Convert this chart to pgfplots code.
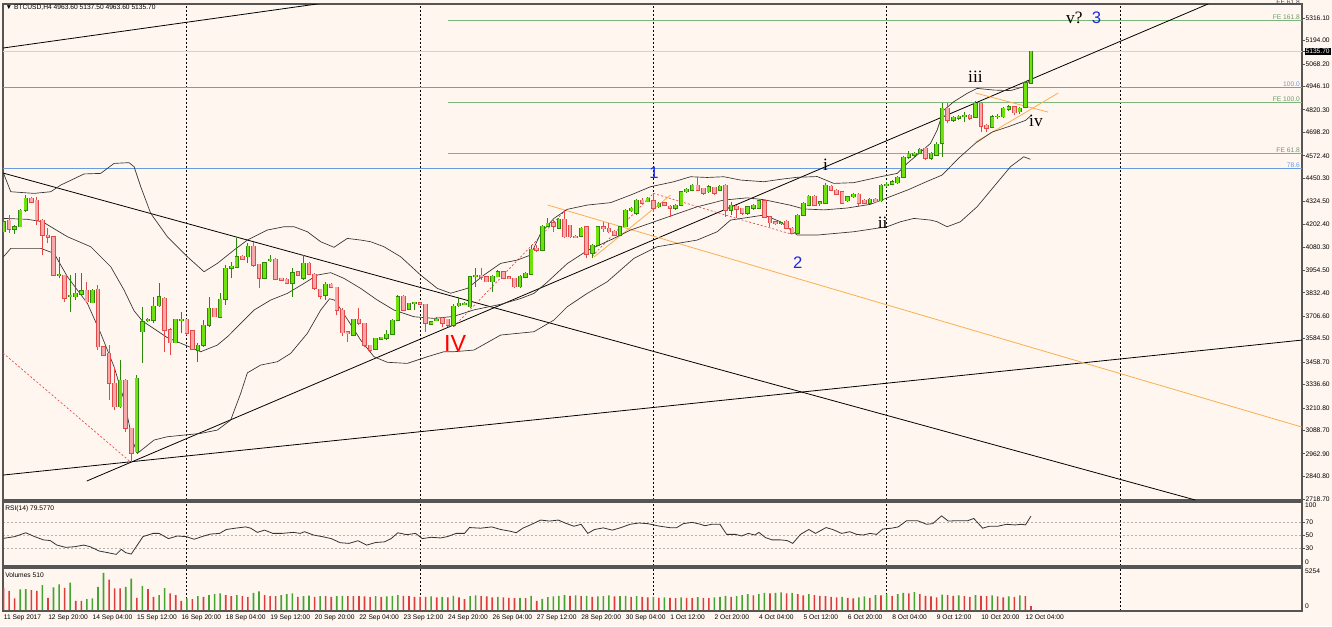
\documentclass[border=0pt]{standalone}
\usepackage{pgfplots}
\pgfplotsset{compat=1.18}
\usepackage{pgfplotstable}
\usepackage{fontspec}
\setmainfont{Liberation Sans}
\newfontfamily\serif{Liberation Serif}

\definecolor{bg}{RGB}{255,246,239}
\definecolor{upfill}{RGB}{110,226,10}
\definecolor{upline}{RGB}{45,135,10}
\definecolor{dnfill}{RGB}{247,168,168}
\definecolor{dnline}{RGB}{228,72,72}
\definecolor{fegreen}{RGB}{125,182,125}
\definecolor{fibblue}{RGB}{105,155,225}
\definecolor{frame}{RGB}{85,85,85}
\definecolor{orng}{RGB}{250,175,80}
\definecolor{wblue}{RGB}{30,40,225}
\definecolor{volg}{RGB}{70,165,50}
\definecolor{volr}{RGB}{225,60,60}

\newcommand\lab{\fontsize{5}{6}\selectfont}

\pgfplotsset{
  wick/.style={forget plot, draw=none, mark=none,
      error bars/.cd, y dir=plus, y explicit, error mark=none,
      error bar style={draw=#1, line width=0.75pt}},
  bodyline/.style={forget plot, draw=none, mark=none,
      error bars/.cd, y dir=both, y explicit, error mark=-,
      error mark options={rotate=90, draw=#1, line width=0.6pt, mark size=1.7pt},
      error bar style={draw=#1, line width=3.4pt}},
  bodyfill/.style={forget plot, draw=none, mark=none,
      error bars/.cd, y dir=both, y explicit, error mark=none,
      error bar style={draw=#1, line width=2.1pt}},
  mt/.style={scale only axis, width=974.25pt, xmin=-8.1, xmax=225.8,
      clip mode=individual,
      axis line style={draw=frame, line width=0.9pt},
      tick style={draw=frame, line width=0.5pt}, major tick length=2.2pt,
      tick align=outside,
      xtick={25,67,109,151,193}, xticklabels={}, xmajorgrids,
      major x grid style={black, line width=0.5pt, dash pattern=on 1.5pt off 1.5pt},
      x tick style={draw=none},
      ytick pos=right, yticklabel pos=right,
      yticklabel style={font=\lab, anchor=west, xshift=-0.5pt, inner sep=0.8pt},
      anchor=north west},
}

% rising candles: bar, open, high, low, close
\pgfplotstableread{
n o h l c
-8 4162 4230 4150 4216
-6 4177 4198 4150 4189
-5 4189 4285 4185 4279
-4 4279 4360 4270 4342
2 3928 4027 3910 3932
4 3811 3928 3730 3820
5 3811 3937 3793 3829
6 3826 3937 3820 3844
8 3779 3851 3775 3847
13 3217 3469 3208 3361
16 2974 3388 2965 3370
17 3622 3757 3451 3676
18 3682 3694 3676 3689
19 3685 3811 3667 3761
20 3763 3883 3757 3811
23 3563 3692 3560 3689
24 3685 3730 3613 3690
27 3523 3559 3460 3550
28 3550 3685 3541 3658
29 3658 3811 3649 3748
31 3700 3829 3694 3797
32 3797 3982 3766 3964
33 3964 4000 3910 3977
34 3970 4126 3964 4027
36 4027 4099 3991 4085
39 3910 4000 3905 3995
40 4006 4036 4000 4013
44 3883 3964 3811 3941
46 3910 4036 3901 3991
50 3820 3892 3793 3880
55 3604 3692 3600 3689
59 3527 3590 3523 3586
60 3583 3596 3580 3592
61 3586 3631 3577 3610
62 3608 3690 3605 3685
63 3685 3820 3680 3811
65 3743 3778 3740 3775
66 3779 3784 3739 3780
69 3664 3680 3660 3676
70 3682 3700 3680 3689
73 3658 3770 3650 3761
74 3763 3808 3757 3775
75 3772 3780 3765 3775
76 3757 3925 3750 3919
77 3919 3964 3865 3928
80 3892 3928 3838 3923
81 3919 3955 3915 3946
85 3865 3930 3860 3923
86 3916 3942 3912 3937
87 3934 4090 3930 4067
89 4063 4198 4058 4193
90 4193 4234 4189 4207
92 4180 4235 4175 4229
96 4139 4185 4135 4180
98 4045 4095 4018 4090
99 4090 4195 4085 4189
103 4144 4193 4140 4189
104 4189 4285 4185 4279
105 4276 4297 4270 4288
106 4261 4340 4255 4333
108 4324 4350 4320 4342
110 4297 4320 4290 4315
113 4288 4310 4280 4306
114 4306 4383 4300 4378
115 4378 4400 4372 4391
116 4387 4420 4380 4414
119 4378 4412 4372 4405
121 4387 4415 4380 4409
123 4279 4324 4252 4306
126 4261 4300 4255 4297
127 4288 4310 4280 4306
128 4288 4335 4283 4329
132 4207 4215 4200 4211
135 4153 4256 4150 4252
136 4252 4320 4248 4315
137 4306 4360 4300 4355
139 4315 4330 4300 4324
140 4315 4425 4310 4414
144 4330 4355 4325 4351
145 4351 4372 4345 4366
148 4315 4345 4310 4337
150 4330 4420 4325 4414
151 4414 4430 4405 4420
152 4420 4440 4412 4432
153 4427 4462 4420 4456
154 4456 4570 4450 4564
155 4564 4600 4555 4582
156 4575 4592 4568 4585
157 4585 4615 4580 4607
159 4558 4590 4550 4585
160 4576 4645 4570 4636
161 4639 4855 4567 4828
163 4765 4785 4755 4780
164 4774 4795 4765 4787
165 4785 4810 4756 4790
167 4780 4870 4775 4855
170 4726 4790 4720 4783
171 4783 4800 4770 4787
172 4783 4835 4775 4828
173 4823 4845 4815 4837
175 4810 4835 4800 4828
176 4833 4975 4828 4967
177 4963.6 5137.5 4963.6 5135.7
}\upc

% falling candles
\pgfplotstableread{
n o h l c
-7 4225 4252 4153 4175
-3 4342 4350 4315 4321
-2 4333 4351 4198 4225
-1 4225 4230 4036 4144
0 4144 4180 4099 4132
1 4135 4140 3925 3928
3 3928 3930 3784 3802
7 3847 3892 3775 3784
9 3851 3874 3523 3541
10 3541 3545 3490 3496
11 3505 3550 3253 3343
12 3343 3433 3199 3217
14 3361 3365 3082 3100
15 3100 3102 2920 2965
21 3802 3810 3514 3631
22 3634 3640 3496 3563
25 3689 3692 3605 3613
26 3628 3630 3523 3527
30 3748 3752 3700 3703
35 4031 4036 4010 4013
37 4085 4108 3973 3982
38 3988 3990 3856 3910
41 4013 4020 3900 3905
42 3910 3912 3898 3901
43 3905 3910 3880 3883
45 3946 3950 3925 3928
47 3991 4000 3928 3934
48 3934 3937 3850 3856
49 3851 3853 3797 3815
51 3880 3884 3860 3862
52 3862 3865 3712 3739
53 3739 3748 3599 3617
54 3622 3625 3568 3613
56 3689 3748 3660 3667
57 3667 3670 3541 3550
58 3550 3552 3514 3523
64 3815 3820 3735 3739
67 3779 3782 3765 3770
68 3770 3772 3622 3667
71 3694 3700 3649 3667
72 3689 3692 3645 3658
78 3928 3964 3901 3916
79 3919 3925 3888 3892
82 3946 3950 3905 3910
83 3919 3925 3905 3910
84 3910 3912 3860 3865
88 4072 4090 4054 4063
91 4211 4225 4162 4193
93 4229 4279 4126 4135
94 4198 4200 4130 4135
95 4139 4142 4128 4132
97 4189 4192 4018 4041
100 4189 4216 4162 4180
101 4180 4207 4153 4162
102 4166 4170 4140 4144
107 4333 4342 4310 4315
109 4329 4369 4270 4288
111 4319 4324 4300 4306
112 4301 4305 4243 4288
117 4414 4459 4380 4387
118 4396 4400 4362 4369
120 4401 4405 4360 4369
122 4414 4420 4243 4279
124 4301 4305 4234 4283
125 4288 4292 4255 4261
129 4329 4333 4235 4240
130 4243 4248 4189 4211
131 4216 4220 4200 4207
133 4220 4225 4175 4180
134 4180 4185 4148 4153
138 4355 4360 4300 4306
141 4409 4415 4385 4387
142 4387 4395 4360 4366
143 4378 4380 4310 4315
146 4366 4370 4300 4315
147 4333 4340 4310 4315
149 4337 4342 4318 4324
158 4612 4620 4550 4558
162 4828 4855 4747 4765
166 4792 4798 4765 4774
168 4855 4860 4702 4733
169 4738 4745 4702 4720
174 4837 4842 4795 4805
}\dnc

% volumes higher than the bar before
\pgfplotstableread{
n v
-5 2645
-4 2690
-1 3200
1 2900
2 3285
4 3540
7 1400
8 1490
9 2990
10 4780
14 2990
15 4050
17 3070
20 1920
21 2815
25 1490
27 1790
29 1920
30 2050
31 2130
34 1920
37 2220
38 2390
42 1920
43 2050
44 2130
46 1790
47 1870
49 1790
52 1790
53 1830
59 1790
61 1750
62 1830
63 1920
69 1750
71 1700
73 1830
76 1790
77 1880
81 1710
85 1580
87 1830
89 1450
90 1660
91 1750
92 1830
93 1920
95 1880
97 1830
99 1750
100 1790
101 1880
103 1790
104 1830
106 1790
109 1700
111 1620
114 1620
117 1660
120 1620
121 1700
122 1830
124 1790
125 1920
126 2050
128 2050
129 2220
131 2220
132 2260
134 2220
137 2050
143 1700
146 1620
147 1750
149 1920
151 2050
153 2050
154 2220
156 2300
161 1970
164 1880
167 1920
170 1880
173 1750
175 1880
}\vup

% volumes not higher than the bar before
\pgfplotstableread{
n v
-8 2860
-7 2475
-6 1490
-3 2560
-2 2475
0 1580
3 2860
5 1195
6 1195
11 3925
12 2770
13 2770
16 1580
18 2690
19 1700
22 2130
23 1920
24 1195
26 1400
28 1700
32 1920
33 1790
35 1790
36 1700
39 1920
40 1790
41 1790
45 1700
48 1700
50 1790
51 1700
54 1790
55 1790
56 1790
57 1750
58 1700
60 1700
64 1830
65 1790
66 1700
67 1700
68 1700
70 1620
72 1620
74 1620
75 1410
78 1790
79 1750
80 1620
82 1620
83 1580
84 1540
86 1540
88 1190
94 1830
96 1790
98 1700
102 1750
105 1700
107 1700
108 1620
110 1580
112 1580
113 1540
115 1580
116 1540
118 1580
119 1540
123 1700
127 1880
130 2130
133 2130
135 2050
136 1880
138 1920
139 1830
140 1790
141 1700
142 1620
144 1580
145 1500
148 1580
150 1880
152 1830
155 2130
157 2050
158 1830
159 1750
160 1620
162 1920
163 1830
165 1790
166 1700
168 1830
169 1790
171 1750
172 1620
174 1700
176 1790
177 510
}\vdn

\pgfplotstableread{
n p
-8 4477
-6.7 4378
-2.5 4369
0.5 4378
2.3 4414
6.5 4474
9.5 4477
11.9 4531
14.6 4535
15.5 4513
16.7 4405
18.5 4261
21.5 4135
25.1 4027
28.1 3946
30.5 3991
33.5 4063
35.9 4117
39.5 4171
42.5 4189
44.3 4189
46.7 4162
49.1 4108
51.5 4078
53.9 4126
56.3 4117
58.1 4108
60.5 4081
63.5 4027
67.1 3928
70.1 3856
72.5 3830
75.5 3856
78.5 3928
81.5 3991
84.5 4009
86.9 4036
88.7 4153
91.1 4234
93.5 4283
97.1 4306
101.3 4319
104.9 4360
108.5 4405
112.7 4432
115.7 4459
118.7 4455
121.7 4459
124.7 4441
128.9 4432
131.9 4445
134.9 4456
138.5 4460
141.5 4423
145.1 4427
149.9 4459
152.9 4477
154.7 4531
156.5 4576
158.9 4639
160.1 4711
161.3 4819
163.1 4864
165.5 4909
167.3 4936
170.3 4927
173.3 4924
175.7 4945
177 4985
}\bbup

\pgfplotstableread{
n p
-8 4234
-3.7 4229
-1 4216
3.5 4135
7.7 4081
11.3 3973
13.7 3847
15.5 3735
17 3680
21.5 3590
25.1 3545
27.5 3514
30.5 3550
32.5 3600
34.1 3649
37.1 3739
40.1 3793
43.1 3829
46.1 3883
48.5 3928
50.9 3941
53.3 3910
56.3 3856
59.3 3793
62.3 3739
65.9 3703
69.5 3694
73.1 3705
76.7 3740
81.5 3770
85 3800
87.5 3829
89.9 3890
93.5 3990
97.1 4060
101.9 4126
104.9 4171
110.9 4234
116.9 4297
121.7 4333
125.9 4345
128.9 4335
133.7 4305
136.1 4285
139.7 4280
143.9 4290
148.1 4310
151.1 4345
155 4390
158 4430
161 4468
164 4560
167 4640
170 4700
173 4730
176 4763
177 4789
}\bbmid

\pgfplotstableread{
n p
-8 4027
-6.7 4072
-1.3 4072
1.1 4045
3.5 3919
7.1 3775
9.5 3613
11.9 3433
13.7 3253
15.2 3037
16.1 2965
19.1 3037
21.5 3055
27.5 3073
30.5 3091
32.9 3145
34.7 3289
35.9 3400
38.3 3442
41.3 3460
43.7 3505
46.7 3613
49.1 3739
50.7 3800
51.6 3793
54 3685
56.3 3577
58.7 3487
61.1 3457
64.7 3451
68.3 3487
71.3 3514
73.1 3514
76.7 3523
81.5 3604
87.5 3622
91.1 3685
93.5 3757
97.1 3829
100.7 3892
105.5 4018
109.7 4081
116.9 4117
120.5 4162
122.9 4225
128.9 4252
131.9 4216
134.9 4144
138.5 4144
145.1 4162
151.1 4189
153.5 4216
155.9 4234
158.9 4225
160.1 4216
161.9 4189
164.3 4216
167.3 4297
170.3 4405
173.3 4513
175.7 4567
176.9 4553
}\bblow

\pgfplotstableread{
n r
-8 45.4
-6 48
-4 54
-2.4 48
-0.8 43
0.4 42
1.6 35
3.2 31.5
4.8 32.5
6.4 35
7.6 32.5
9.2 25.9
10.8 23.3
12.3 20.7
13.2 28.4
14 23.3
15 21.2
17.1 48
18.9 53
20 53
21.7 45
23.3 49
24.9 48
26.3 44
27.7 48
29.3 52
30.9 53
32.1 59
33.7 61
35.6 63
36.5 61
37.7 54.6
39 58
40.5 53
42.1 53
44.2 54.6
45.4 53
46.2 55.6
47.8 50.5
49.4 48
51 45
52.6 38.7
54.2 37.6
55.8 41.7
57.4 35
59 39
60.6 40
61.8 45
63 54
64.6 51
66.2 53
67.4 45
69 47
70.7 46
71.9 48
73.5 53
75 53
75.9 62
77.9 61
79.9 63
81.5 59
83.1 56.6
84.3 54
85.5 61
87.1 67
88.7 73.5
90.3 72
91.9 73.5
93.1 69
94.7 64
96 67
97.2 53
98.4 59
100 61.5
101.6 58
103.2 62
104.8 67
106.4 69
108 68
110 64.3
112 61.8
113.2 61.8
114.4 68
116 70
117.5 67
118.3 64.8
119.5 67
121 67
122.2 51.5
123.8 51.5
124.9 49
126.1 53
127.3 50.5
128 54.6
129.2 46.5
130.4 43
131.9 43
133.1 42
134.1 37.6
135.5 51.5
137 59
138.2 53
140.1 62
141.3 59
142.9 53
144.4 55.6
145.6 51.5
146.8 50.5
148 53
149.2 51.5
150.3 59.7
151.9 61
153.1 63
154.6 72.5
156.6 72.5
158.2 67
159.3 68
160.9 80
162.1 72
163.6 72.5
165.6 72.5
166.7 76
168.3 61
169.5 64
171 64
172.6 67
174.1 66
175.3 67
176 66
177 79.6
}\rsi

\begin{document}
\begin{tikzpicture}
\fill[bg] (0pt,0pt) rectangle (999pt,-469.5pt);
\useasboundingbox (0pt,0pt) rectangle (999pt,-469.5pt);

% ---------------- price panel
\begin{axis}[mt, at={(2.25pt,-3pt)}, height=372pt,
  ymin=2713.3, ymax=5391.7,
  ytick={2718.7,2840.8,2962.9,3088.7,3210.8,3336.6,3458.7,3584.5,3706.6,3832.4,3954.5,4080.3,4202.4,4324.5,4450.3,4572.4,4698.2,4820.3,4946.1,5068.2,5194.0,5316.1},
  yticklabels={2718.70,2840.80,2962.90,3088.70,3210.80,3336.60,3458.70,3584.50,3706.60,3832.40,3954.50,4080.30,4202.40,4324.50,4450.30,4572.40,4698.20,4820.30,4946.10,5068.20,5194.00,5316.10},
  extra y ticks={5135.7}, extra y tick labels={5135.70},
  extra y tick style={tick label style={fill=black, text=white}},
]
% horizontal levels
\addplot[gray!35, line width=1pt] coordinates {(-9,5135.7) (226,5135.7)};
\addplot[fibblue, line width=0.7pt] coordinates {(-9,4942) (226,4942)};
\addplot[fibblue, line width=0.7pt] coordinates {(-9,4505) (226,4505)};
\addplot[fegreen, line width=0.7pt] coordinates {(72,5301) (226,5301)};
\addplot[fegreen, line width=0.7pt] coordinates {(72,4858) (226,4858)};
\addplot[fegreen, line width=0.7pt] coordinates {(72,4585) (226,4585)};
% trend lines
\addplot[black, line width=0.6pt] coordinates {(-8.1,5154) (49.7,5397)};
\addplot[black, line width=0.6pt] coordinates {(-8.1,4479) (206.6,2713.3)};
\addplot[black, line width=0.6pt] coordinates {(7.0,2816) (208.9,5392)};
\addplot[black, line width=0.6pt] coordinates {(-8.1,2848) (225.8,3577)};
\addplot[orng, line width=0.6pt] coordinates {(90.0,4306) (225.8,3107)};
\addplot[orng, line width=0.6pt] coordinates {(98.3,4025) (112.1,4360)};
\addplot[orng, line width=0.6pt] coordinates {(167,4911) (180.1,4808)};
\addplot[orng, line width=0.6pt] coordinates {(167,4646) (181.9,4911)};
\addplot[dnline, line width=0.5pt, dash pattern=on 1.5pt off 1.5pt] coordinates {(-8.1,3507) (14.9,2918)};
\addplot[dnline, line width=0.5pt, dash pattern=on 1.5pt off 1.5pt] coordinates {(73.1,3650) (93.2,4279)};
\addplot[dnline, line width=0.5pt, dash pattern=on 1.5pt off 1.5pt] coordinates {(98,4030) (109,4369)};
\addplot[dnline, line width=0.5pt, dash pattern=on 1.5pt off 1.5pt] coordinates {(109,4369) (124,4234) (134,4148)};
% bollinger bands
\addplot[black!80, line width=0.5pt] table[x=n, y=p] {\bbup};
\addplot[black!80, line width=0.5pt] table[x=n, y=p] {\bbmid};
\addplot[black!80, line width=0.5pt] table[x=n, y=p] {\bblow};
% candles
\addplot[wick=upline] table[x=n, y=l, y error expr={\thisrow{h}-\thisrow{l}}] {\upc};
\addplot[wick=dnline] table[x=n, y=l, y error expr={\thisrow{h}-\thisrow{l}}] {\dnc};
\addplot[bodyline=upline] table[x=n, y expr={(\thisrow{o}+\thisrow{c})/2}, y error expr={(\thisrow{c}-\thisrow{o})/2}] {\upc};
\addplot[bodyline=dnline] table[x=n, y expr={(\thisrow{o}+\thisrow{c})/2}, y error expr={(\thisrow{o}-\thisrow{c})/2}] {\dnc};
\addplot[bodyfill=upfill] table[x=n, y expr={(\thisrow{o}+\thisrow{c})/2}, y error expr={(\thisrow{c}-\thisrow{o})/2}] {\upc};
\addplot[bodyfill=dnfill] table[x=n, y expr={(\thisrow{o}+\thisrow{c})/2}, y error expr={(\thisrow{o}-\thisrow{c})/2}] {\dnc};
% level labels
\node[anchor=south east, font=\lab, text=fegreen!85!black, inner sep=0.6pt] at (axis cs:225.6,5301) {FE 161.8};
\node[anchor=south east, font=\lab, text=fibblue, inner sep=0.6pt] at (axis cs:225.6,4942) {100.0};
\node[anchor=south east, font=\lab, text=fegreen!85!black, inner sep=0.6pt] at (axis cs:225.6,4858) {FE 100.0};
\node[anchor=south east, font=\lab, text=fegreen!85!black, inner sep=0.6pt] at (axis cs:225.6,4585) {FE 61.8};
\node[anchor=south east, font=\lab, text=fibblue, inner sep=0.6pt] at (axis cs:225.6,4505) {78.6};
\node[anchor=east, font=\lab, text=black!70, inner sep=0.6pt] at (axis cs:225.6,5404) {FE 61.8};
% wave labels
\node[text=wblue, font=\fontsize{12.5}{14}\selectfont] at (axis cs:109.1,4479) {1};
\node[text=wblue, font=\fontsize{12.5}{14}\selectfont] at (axis cs:135,3993) {2};
\node[text=wblue, font=\fontsize{12.5}{14}\selectfont] at (axis cs:188.8,5316) {3};
\node[text=red, font=\fontsize{17.5}{19}\selectfont] at (axis cs:73.3,3558) {IV};
\node[font=\serif\fontsize{13}{15}\selectfont] at (axis cs:140,4522) {i};
\node[font=\serif\fontsize{13}{15}\selectfont] at (axis cs:150.3,4212) {ii};
\node[font=\serif\fontsize{13}{15}\selectfont] at (axis cs:167,4997) {iii};
\node[font=\serif\fontsize{13}{15}\selectfont] at (axis cs:177.9,4762) {iv};
\node[font=\serif\fontsize{13}{15}\selectfont] at (axis cs:184.8,5316) {v?};
\end{axis}

% ---------------- RSI panel
\begin{axis}[mt, at={(2.25pt,-376.5pt)}, height=48pt,
  ymin=2.8, ymax=101.3,
  ytick={30,50,70}, yticklabels={30,50,70}, ymajorgrids,
  major y grid style={gray!60, line width=0.4pt, dash pattern=on 1.5pt off 1.5pt},
]
\addplot[black!80, line width=0.6pt] table[x=n, y=r] {\rsi};
\node[anchor=north west, font=\lab, inner sep=0.8pt] at ([xshift=1.4pt]rel axis cs:1,1) {100};
\node[anchor=south west, font=\lab, inner sep=0.8pt] at ([xshift=1.4pt]rel axis cs:1,0) {0};
\end{axis}

% ---------------- volume panel
\begin{axis}[mt, at={(2.25pt,-426pt)}, height=32.25pt,
  ymin=-120, ymax=5400,
  ytick=\empty,
  extra x ticks={-8,0,8,16,24,32,40,48,56,64,72,80,88,96,104,112,120,128,136,144,152,160,168,176},
  extra x tick labels={11 Sep 2017,12 Sep 20:00,14 Sep 04:00,15 Sep 12:00,16 Sep 20:00,18 Sep 04:00,19 Sep 12:00,20 Sep 20:00,22 Sep 04:00,23 Sep 12:00,24 Sep 20:00,26 Sep 04:00,27 Sep 12:00,28 Sep 20:00,30 Sep 04:00,1 Oct 12:00,2 Oct 20:00,4 Oct 04:00,5 Oct 12:00,6 Oct 20:00,8 Oct 04:00,9 Oct 12:00,10 Oct 20:00,12 Oct 04:00},
  extra x tick style={grid=none, tick label style={font=\lab, anchor=north west, xshift=-0.8pt, yshift=0.5pt, inner sep=0.8pt}},
]
\addplot[ybar, bar width=1.2pt, bar shift=0pt, fill=volg, draw=none] table[x=n, y=v] {\vup};
\addplot[ybar, bar width=1.2pt, bar shift=0pt, fill=volr, draw=none] table[x=n, y=v] {\vdn};
\node[anchor=north west, font=\lab, inner sep=0.8pt] at ([xshift=1.4pt]rel axis cs:1,1) {5254};
\node[anchor=south west, font=\lab, inner sep=0.8pt] at ([xshift=1.4pt, yshift=1pt]rel axis cs:1,0) {0};
\end{axis}

% panel captions
\node[anchor=west, font=\lab, inner sep=0pt] at (4pt,-6pt) {▼ BTCUSD,H4  4963.60 5137.50 4963.60 5135.70};
\node[anchor=west, font=\lab, inner sep=0pt] at (3.75pt,-381.5pt) {RSI(14) 79.5770};
\node[anchor=west, font=\lab, inner sep=0pt] at (3.75pt,-431pt) {Volumes 510};
\end{tikzpicture}
\end{document}
